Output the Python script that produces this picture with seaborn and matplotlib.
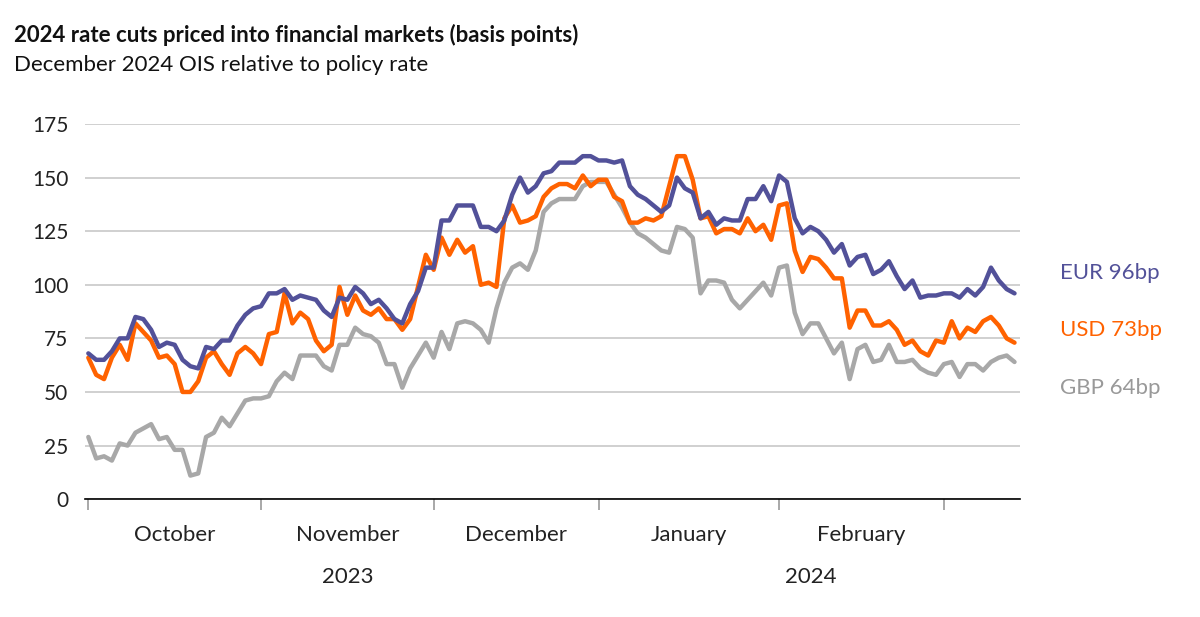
import numpy as np
import pandas as pd
import seaborn as sns
import matplotlib.pyplot as plt

# values in basis points, one per business day from 2 Oct 2023
eur = [68, 65, 65, 69, 75, 75, 85, 84, 79, 71, 73, 72, 65, 62, 61, 71, 70, 74, 74, 81,
       86, 89, 90, 96, 96, 98, 93, 95, 94, 93, 88, 85, 94, 93, 99, 96, 91, 93, 89, 84,
       82, 91, 97, 108, 108, 130,
       130, 137, 137, 137, 127, 127, 125, 130, 142, 150, 143, 146, 152, 153, 157, 157, 157,
       160, 160, 158, 158, 157, 158, 146, 142, 140, 137, 134, 137, 150, 145, 143, 131, 134,
       128, 131, 130, 130, 140, 140, 146, 139, 151, 148,
       131, 124, 127, 125, 121, 115, 119, 109, 113, 114, 105, 107, 111, 104, 98, 102, 94,
       95, 95, 96, 96, 94, 98, 95, 99, 108, 102, 98, 96]
usd = [66, 58, 56, 66, 72, 65, 82, 78, 74, 66, 67, 63, 50, 50, 55, 66, 69, 63, 58, 68,
       71, 68, 63, 77, 78, 96, 82, 87, 84, 74, 69, 72, 99, 86, 95, 88, 86, 89, 84, 84,
       79, 84, 99, 114, 107, 122,
       114, 121, 115, 118, 100, 101, 99, 131, 137, 129, 130, 132, 141, 145, 147, 147, 145,
       151, 146, 149, 149, 141, 139, 129, 129, 131, 130, 132, 146, 160, 160, 149, 131, 132,
       124, 126, 126, 124, 131, 125, 128, 121, 137, 138,
       116, 106, 113, 112, 108, 103, 103, 80, 88, 88, 81, 81, 83, 79, 72, 74, 69,
       67, 74, 73, 83, 75, 80, 78, 83, 85, 81, 75, 73]
gbp = [29, 19, 20, 18, 26, 25, 31, 33, 35, 28, 29, 23, 23, 11, 12, 29, 31, 38, 34, 40,
       46, 47, 47, 48, 55, 59, 56, 67, 67, 67, 62, 60, 72, 72, 80, 77, 76, 73, 63, 63,
       52, 61, 67, 73, 66, 78,
       70, 82, 83, 82, 79, 73, 89, 101, 108, 110, 107, 116, 134, 138, 140, 140, 140,
       146, 148, 148, 148, 142, 136, 129, 124, 122, 119, 116, 115, 127, 126, 122, 96, 102,
       102, 101, 93, 89, 93, 97, 101, 95, 108, 109,
       87, 77, 82, 82, 75, 68, 73, 56, 70, 72, 64, 65, 72, 64, 64, 65, 61,
       59, 58, 63, 64, 57, 63, 63, 60, 64, 66, 67, 64]

month_names = ['October', 'November', 'December', 'January', 'February']
# position (business day count) of each month start: Oct, Nov, Dec, Jan, Feb, Mar
month_start_idx = [0, 22, 44, 65, 88, 109]

df = pd.DataFrame({'day': np.arange(len(eur)), 'EUR': eur, 'USD': usd, 'GBP': gbp})
long = df.melt(id_vars='day', var_name='ccy', value_name='bp')

colors = {'EUR': '#525199', 'USD': '#FF6200', 'GBP': '#A8A8A8'}
labels = {'EUR': 'EUR 96bp', 'USD': 'USD 73bp', 'GBP': 'GBP 64bp'}

sns.set_theme(style='white')
plt.rcParams['font.family'] = ['Lato', 'DejaVu Sans']

fig = plt.figure(figsize=(12, 6.17), dpi=100)
ax = fig.add_axes([0.071, 0.191, 0.779, 0.608])
sns.lineplot(data=long, x='day', y='bp', hue='ccy', hue_order=['GBP', 'USD', 'EUR'],
             palette=colors, linewidth=3.2, legend=False, ax=ax)

ax.set_ylim(0, 175)
ax.set_yticks(range(0, 176, 25))
ax.grid(axis='y', color='#c8c8c8', linewidth=1.2)
ax.set_xlim(-0.4, len(eur) - 0.3)
for s in ['top', 'right', 'left']:
    ax.spines[s].set_visible(False)
ax.spines['bottom'].set_color('black')
ax.spines['bottom'].set_linewidth(1.2)

ax.set_xticks(month_start_idx)
ax.set_xticklabels([])
ax.tick_params(axis='x', direction='out', length=8, width=1.2, color='#999999', bottom=True)
ax.tick_params(axis='y', labelsize=15, length=0, pad=12, labelcolor='#222222')
ax.set_xlabel('')
ax.set_ylabel('')

xt = ax.get_xaxis_transform()
for i, name in enumerate(month_names):
    mid = (month_start_idx[i] + month_start_idx[i + 1]) / 2
    ax.text(mid, -0.07, name, transform=xt, ha='center', va='top', fontsize=16, color='#222222')
ax.text(33, -0.18, '2023', transform=xt, ha='center', va='top', fontsize=16, color='#222222')
ax.text(92, -0.18, '2024', transform=xt, ha='center', va='top', fontsize=16, color='#222222')

fig.text(0.883, 1 - 273 / 617, labels['EUR'], color=colors['EUR'], fontsize=16, va='center')
fig.text(0.883, 1 - 330 / 617, labels['USD'], color=colors['USD'], fontsize=16, va='center')
fig.text(0.883, 1 - 388 / 617, labels['GBP'], color='#999999', fontsize=16, va='center')

fig.text(0.012, 1 - 35 / 617, '2024 rate cuts priced into financial markets (basis points)',
         fontsize=16, fontweight='bold', va='center', color='#111111')
fig.text(0.012, 1 - 65 / 617, 'December 2024 OIS relative to policy rate',
         fontsize=16, va='center', color='#111111')

fig.savefig('out.png', dpi=100)
